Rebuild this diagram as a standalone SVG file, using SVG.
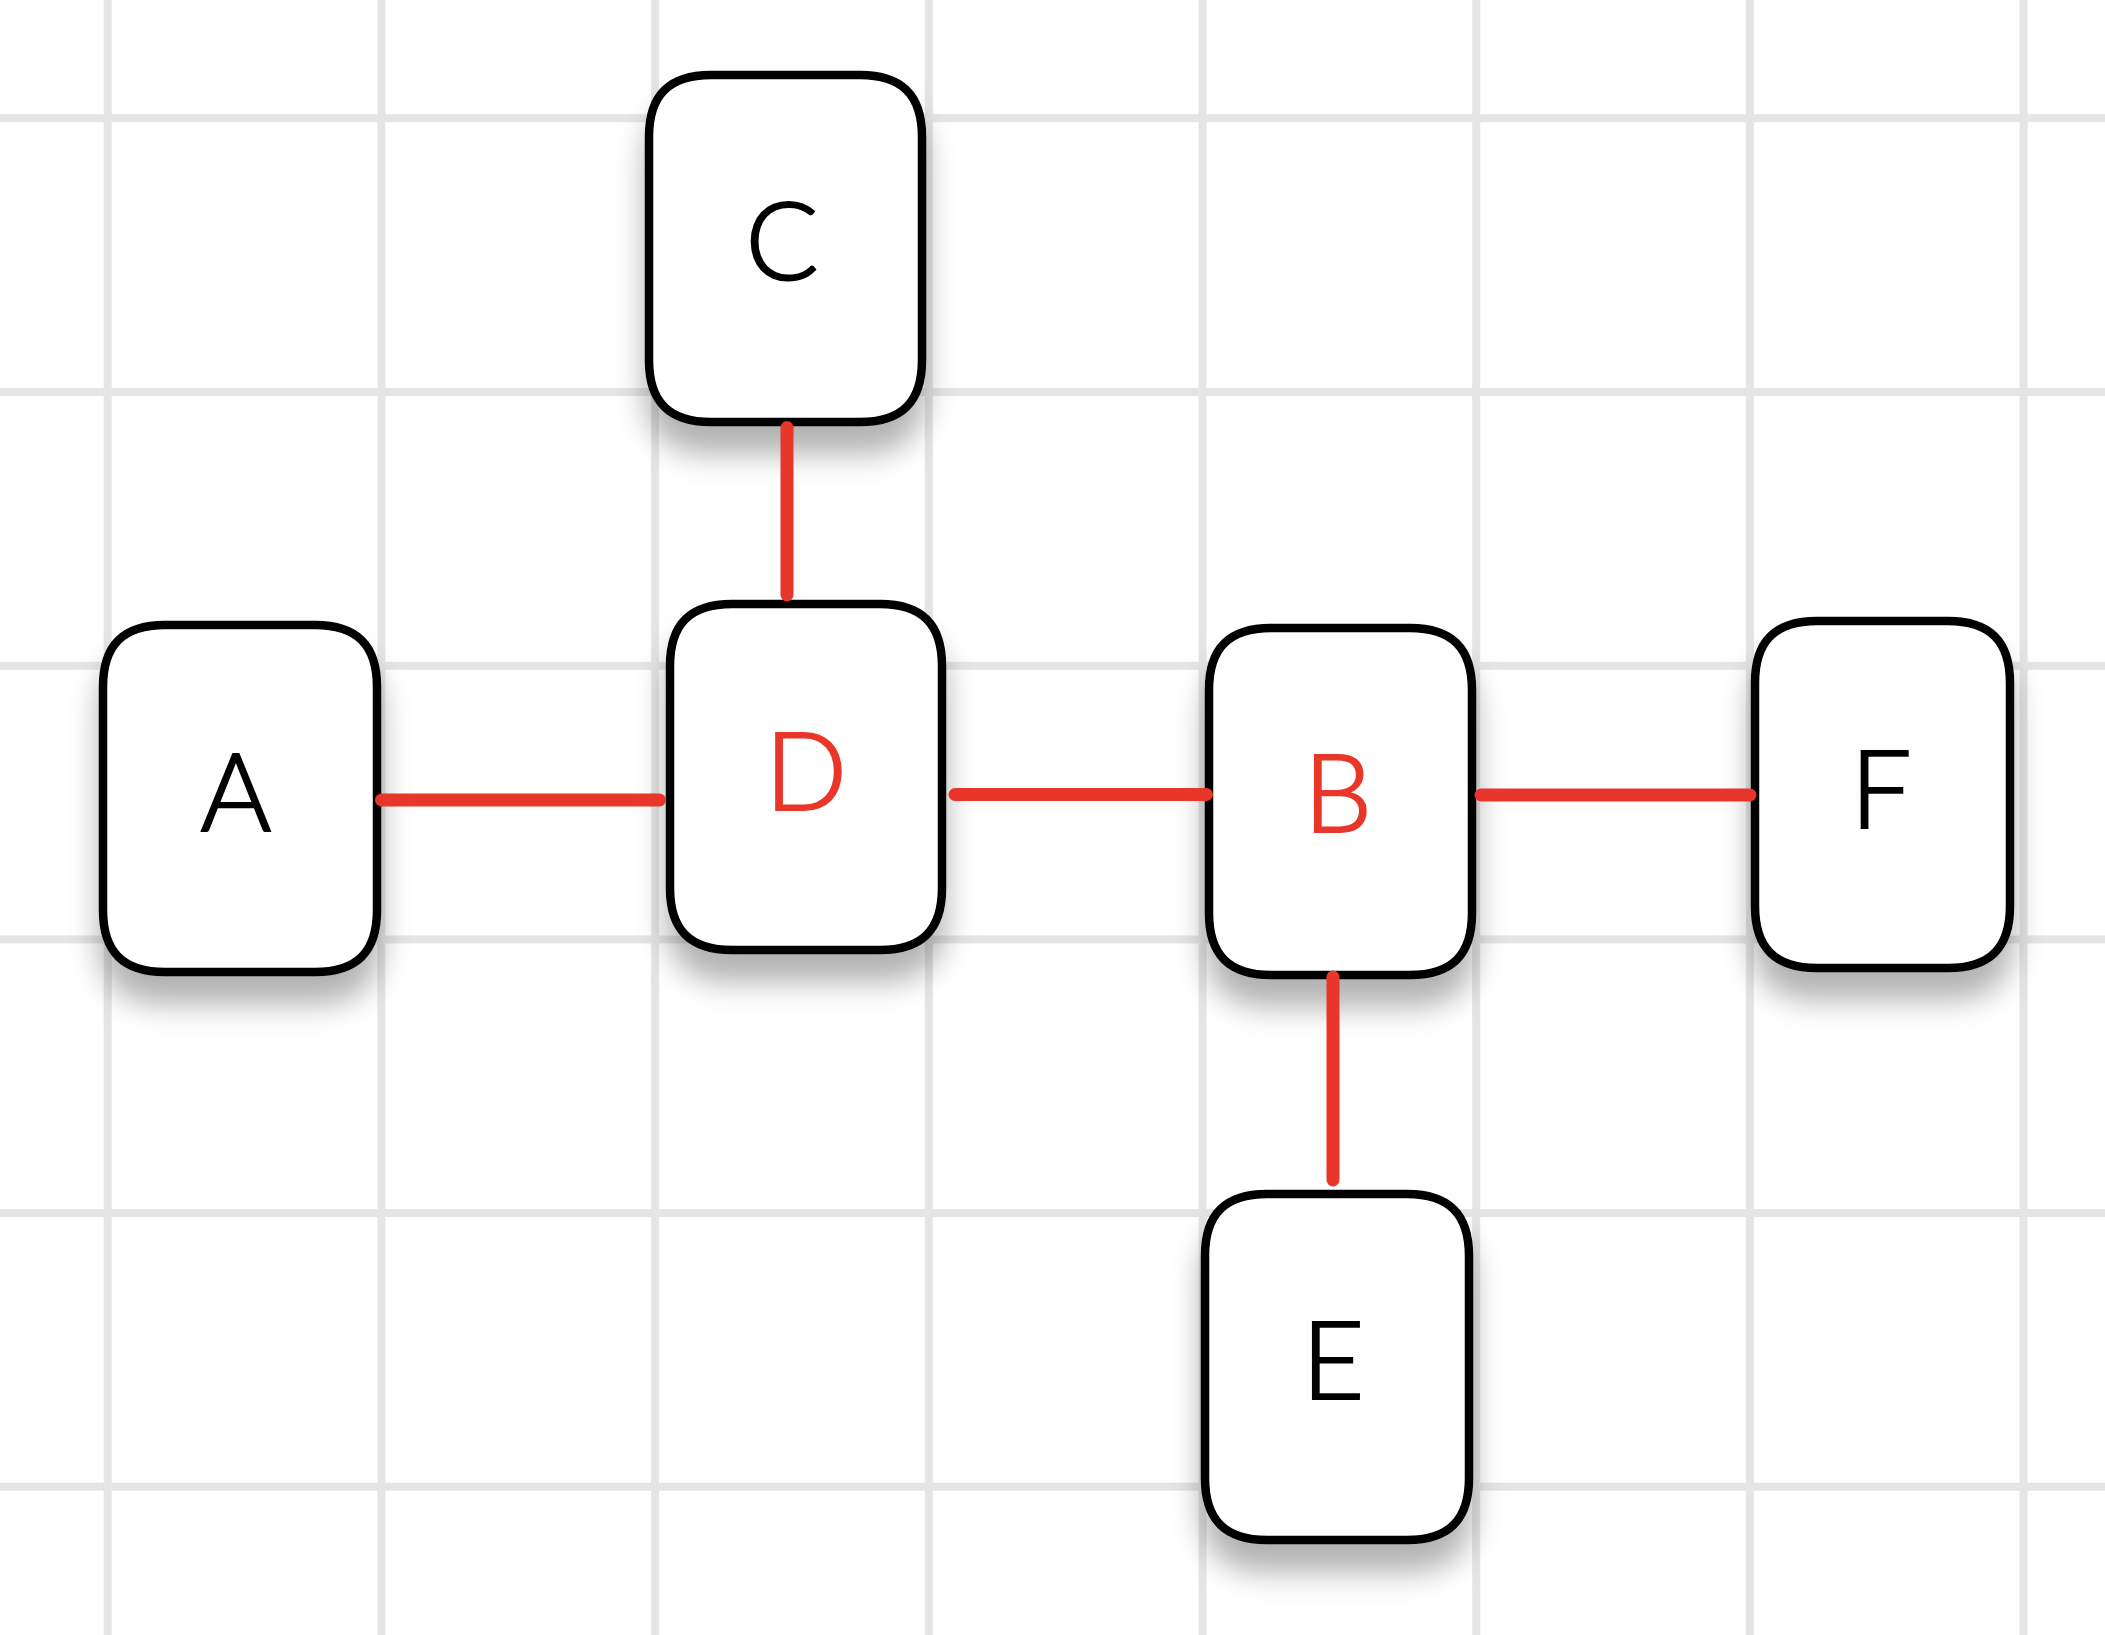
<svg xmlns="http://www.w3.org/2000/svg" width="2105" height="1635" viewBox="0 0 2105 1635">
<style>
.grid line{stroke:#e5e5e5;stroke-width:8}
.box{fill:#ffffff;stroke:#000000;stroke-width:8.5;filter:url(#sh)}
.lbl{font-family:Lato,"Open Sans","Liberation Sans",sans-serif;font-weight:300;font-size:108px;text-anchor:middle;stroke-width:2.2}
.blk{fill:#000000;stroke:#000000}
.red{fill:#e8372a;stroke:#e8372a}
.edges line{stroke:#e8372a;stroke-width:13;stroke-linecap:round}
</style>
<defs>
<filter id="sh" x="-25%" y="-25%" width="150%" height="160%">
<feDropShadow dx="0" dy="28" stdDeviation="15" flood-color="#000000" flood-opacity="0.3"/>
</filter>
</defs>
<rect width="2105" height="1635" fill="#ffffff"/>
<g class="grid">
<line x1="107.7" y1="0" x2="107.7" y2="1635"/>
<line x1="381.4" y1="0" x2="381.4" y2="1635"/>
<line x1="655.1" y1="0" x2="655.1" y2="1635"/>
<line x1="928.8" y1="0" x2="928.8" y2="1635"/>
<line x1="1202.5" y1="0" x2="1202.5" y2="1635"/>
<line x1="1476.2" y1="0" x2="1476.2" y2="1635"/>
<line x1="1749.9" y1="0" x2="1749.9" y2="1635"/>
<line x1="2023.6" y1="0" x2="2023.6" y2="1635"/>
<line x1="0" y1="118.3" x2="2105" y2="118.3"/>
<line x1="0" y1="392" x2="2105" y2="392"/>
<line x1="0" y1="665.7" x2="2105" y2="665.7"/>
<line x1="0" y1="939.4" x2="2105" y2="939.4"/>
<line x1="0" y1="1213.1" x2="2105" y2="1213.1"/>
<line x1="0" y1="1486.8" x2="2105" y2="1486.8"/>
</g>
<g id="node-A">
<path class="box" d="M165,625 H315 C357,625 377,645 377,687 V910 C377,952 357,972 315,972 H165 C123,972 103,952 103,910 V687 C103,645 123,625 165,625 Z"/>
<text class="lbl blk" x="236" y="831">A</text>
</g>
<g id="node-C">
<path class="box" d="M711,75 H860 C902,75 922,95 922,137 V360 C922,402 902,422 860,422 H711 C669,422 649,402 649,360 V137 C649,95 669,75 711,75 Z"/>
<text class="lbl blk" x="782" y="280">C</text>
</g>
<g id="node-D">
<path class="box" d="M732,604 H880 C922,604 942,624 942,666 V888 C942,930 922,950 880,950 H732 C690,950 670,930 670,888 V666 C670,624 690,604 732,604 Z"/>
<text class="lbl red" x="806" y="810">D</text>
</g>
<g id="node-B">
<path class="box" d="M1271,628 H1410 C1452,628 1472,648 1472,690 V913 C1472,955 1452,975 1410,975 H1271 C1229,975 1209,955 1209,913 V690 C1209,648 1229,628 1271,628 Z"/>
<text class="lbl red" x="1338" y="832">B</text>
</g>
<g id="node-E">
<path class="box" d="M1267,1194 H1407 C1449,1194 1469,1214 1469,1256 V1478 C1469,1520 1449,1540 1407,1540 H1267 C1225,1540 1205,1520 1205,1478 V1256 C1205,1214 1225,1194 1267,1194 Z"/>
<text class="lbl blk" x="1333" y="1399">E</text>
</g>
<g id="node-F">
<path class="box" d="M1817,621 H1948 C1990,621 2010,641 2010,683 V906 C2010,948 1990,968 1948,968 H1817 C1775,968 1755,948 1755,906 V683 C1755,641 1775,621 1817,621 Z"/>
<text class="lbl blk" x="1881" y="828">F</text>
</g>
<g class="edges" id="connectors">
<line x1="381.5" y1="800" x2="659.5" y2="800"/>
<line x1="787" y1="427.5" x2="787" y2="595"/>
<line x1="955" y1="794.5" x2="1206.5" y2="794.5"/>
<line x1="1481" y1="795" x2="1750" y2="795"/>
<line x1="1333" y1="977" x2="1333" y2="1180"/>
</g>
</svg>
